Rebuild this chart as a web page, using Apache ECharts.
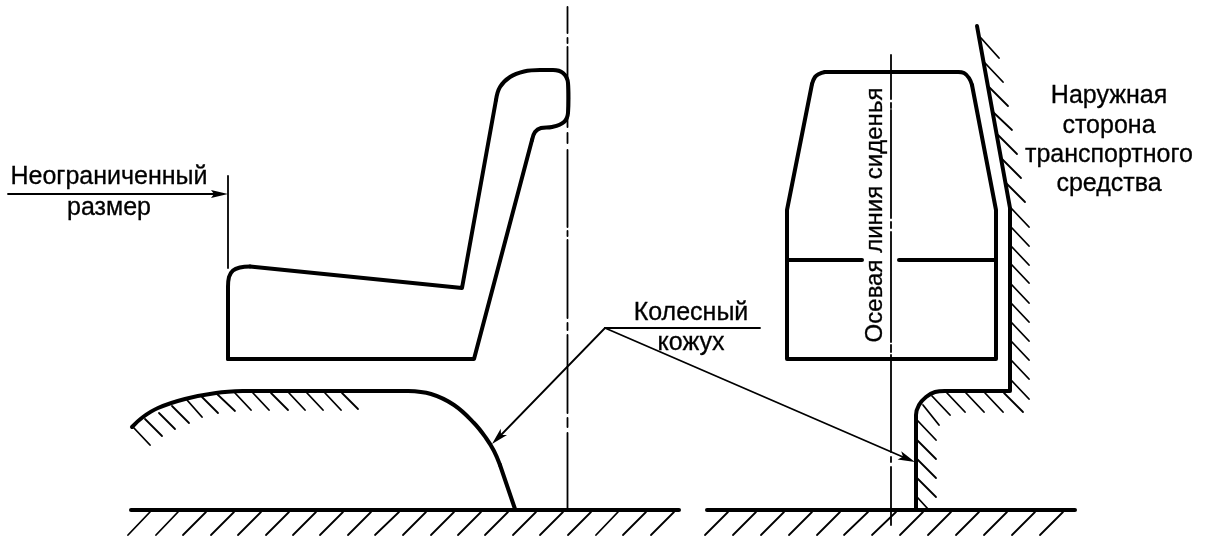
<!DOCTYPE html>
<html><head><meta charset="utf-8">
<style>html,body{margin:0;padding:0;background:#fff}#c{width:1208px;height:540px}</style>
<script src="https://cdn.jsdelivr.net/npm/echarts@6/dist/echarts.min.js"></script>
</head><body><div id="c"></div>
<script>
// Bold straight outlines
const seatBackStraight = [[228,359],[228,287]];
const seatCushionTop = [[250,266.5],[462,288],[496,100]];
const seatFrontStraight = [[532,140],[474,359],[228,359]];
const fenderFlat = [[243,391],[408,391]];
const fenderTail = [[500,465],[515,509]];
const groundLeft = [[131,510],[679,510]];
const groundRight = [[707,510],[1075,510]];
const seatRightLeftEdge = [[812,84],[787,210],[787,359],[996,359],[996,210],[972,85]];
const seatRightTop = [[825,72],[958,72]];
const seatRightBandA = [[787,260],[862,260]];
const seatRightBandB = [[899,260],[995,260]];
const wallOuter = [[977,26],[1010,208],[1010,391],[945,391]];
const wallDown = [[916,424],[916,510]];
// Bold curved parts
const seatCushionCorner = [[228,287],[229,277],[233,270.5],[240,267.5],[250,266.5]];
const seatHeadCurve = [[496,100],[500,87],[510,77],[524,71.5],[540,70],[553,70],[563,73],[568,83],[568.5,98],[568,113],[564,122],[552,127],[541,128],[535,132],[532,140]];
const fenderRise = [[132,427],[143,417],[158,408],[185,399],[216,393],[243,391]];
const fenderDrop = [[408,391],[431,394],[454,405],[474,423],[486,438],[494,451],[500,465]];
const seatRightCornerL = [[812,84],[815,77],[819,74],[825,72]];
const seatRightCornerR = [[958,72],[964,73],[969,78],[972,85]];
const wallBend = [[945,391],[935,392],[926,397],[919,405],[916,415],[916,424]];
// Thin lines
const leaderTop = [[605,328],[760,328]];
const leaderA = [[605,328],[501,435]];
const leaderB = [[605,328],[903,457]];
const dimShaft = [[8,194],[214,194]];
const dimExtension = [[228,176],[228,268]];
const axisLeftX = 567.5;
const axisLeftDashes = [[7,33],[38,43],[47,127],[133,143],[150,227],[231,236],[240,318],[323,330],[335,413],[418,427],[433,510]];
const axisRightX = 891;
const axisRightDashes = [[55,99],[103,108],[110,218],[222,228],[232,342],[345,352],[355,452],[457,462],[467,525]];
// Hatch segments: x1,y1,x2,y2
const groundLeftTops = [150,178,206,234,261,289,316,343,371,399,426,454,481,508,536,563,591,618,646,674];
const groundLeftBottoms = [128,156,183,211,238,266,293,320,348,375,403,431,458,485,513,540,568,596,623,651];
const groundRightTops = [728,756,784,812,840,868,896,923,951,979,1007,1035,1063];
const groundRightBottoms = [705,733,761,789,817,844,872,900,928,956,984,1012,1040];
const fenderHatch = [[133,427,150,445],[145,419,162,436],[159,413,175,429],[172,406,189,423],[187,400,202,417],[202,397,218,413],[217,394,235,411],[235,393,251,410],[253,393,269,410],[271,393,288,410],[289,393,305,410],[307,393,323,410],[325,393,341,410],[342,393,358,409]];
const wallHatch = [[981,38,999,58],[985,63,1003,82],[989,87,1008,106],[993,112,1012,130],[998,135,1017,154],[1002,159,1021,178],[1006,183,1025,202],[1011,208,1029,227],[1011,227,1029,246],[1011,246,1029,265],[1011,264,1029,283],[1011,284,1029,303],[1011,303,1029,322],[1011,322,1029,341],[1011,341,1029,360],[1011,360,1029,379],[1011,380,1029,399],[1004,393,1023,412],[985,393,1003,412],[966,393,984,412],[947,393,965,412],[932,396,950,415],[923,405,939,425],[917,420,936,440],[917,440,936,459],[917,459,936,478],[917,478,936,497],[917,497,928,509]];
// Arrowheads: tip, barb, notch, barb
const arrowHeads = [
  [[228,194],[211,190],[214,194],[211,198]],
  [[492,444],[507,435],[501,435],[500.7,428.7]],
  [[915,462],[897.6,459.4],[903,456.8],[901.2,451.2]]
];
// Texts
const labels = [
  {t:'Неограниченный',x:109,y:177},{t:'размер',x:109,y:208},
  {t:'Колесный',x:691,y:313},{t:'кожух',x:691,y:343},
  {t:'Наружная',x:1109,y:96},{t:'сторона',x:1109,y:126},{t:'транспортного',x:1109,y:155},{t:'средства',x:1109,y:184}
];
const axisLabel = 'Осевая линия сиденья';

const segs = a => { const o=[]; a.forEach(s=>{o.push([s[0],s[1]],[s[2],s[3]],[null,null]);}); return o; };
const pairs = (t,b,y1,y2) => t.map((v,i)=>[v,y1,b[i],y2]);
const vert = (x,d) => d.map(s=>[x,s[0],x,s[1]]);
const line = (data,w,smooth) => ({type:'line',data,showSymbol:false,symbol:'none',smooth:smooth||false,connectNulls:false,silent:true,animation:false,
  lineStyle:{color:'#000',width:w,join:'round',cap:'round'},z:2});
const BOLD=4, THIN=1.8, SM=0.4;
const series=[
  ...[seatBackStraight,seatCushionTop,seatFrontStraight,fenderFlat,fenderTail,groundLeft,groundRight,seatRightLeftEdge,seatRightTop,seatRightBandA,seatRightBandB,wallOuter,wallDown].map(d=>line(d,BOLD)),
  ...[seatCushionCorner,seatHeadCurve,fenderRise,fenderDrop,seatRightCornerL,seatRightCornerR,wallBend].map(d=>line(d,BOLD,SM)),
  line(leaderTop,THIN),line(leaderA,THIN),line(leaderB,THIN),line(dimShaft,THIN),line(dimExtension,THIN),
  line(segs(vert(axisLeftX,axisLeftDashes)),THIN),line(segs(vert(axisRightX,axisRightDashes)),THIN),
  line(segs(pairs(groundLeftTops,groundLeftBottoms,512,535)),THIN),
  line(segs(pairs(groundRightTops,groundRightBottoms,512,535)),THIN),
  line(segs(fenderHatch),THIN),line(segs(wallHatch),THIN),
  {type:'custom',silent:true,animation:false,coordinateSystem:'cartesian2d',data:arrowHeads.map((_,i)=>[i]),encode:{x:-1,y:-1},z:3,
   renderItem:(p,api)=>({type:'polygon',shape:{points:arrowHeads[api.value(0)].map(c=>api.coord(c))},style:{fill:'#000'}})}
];
const FONT='"Liberation Sans", Arial, sans-serif';
const graphic = labels.map(l=>({type:'text',x:l.x,y:l.y,silent:true,style:{text:l.t,font:'25px '+FONT,fill:'#000',stroke:'#000',lineWidth:0.3,textAlign:'center',textVerticalAlign:'middle'}}));
graphic.push({type:'text',x:875,y:215,rotation:Math.PI/2,silent:true,style:{text:axisLabel,font:'24px '+FONT,fill:'#000',stroke:'#000',lineWidth:0.3,textAlign:'center',textVerticalAlign:'middle'}});
const chart=echarts.init(document.getElementById('c'),null,{renderer:'canvas'});
chart.setOption({animation:false,backgroundColor:'#fff',
  grid:{left:0,right:0,top:0,bottom:0},
  xAxis:{type:'value',min:0,max:1208,show:false},
  yAxis:{type:'value',min:0,max:540,inverse:true,show:false},
  series,graphic});
</script></body></html>
